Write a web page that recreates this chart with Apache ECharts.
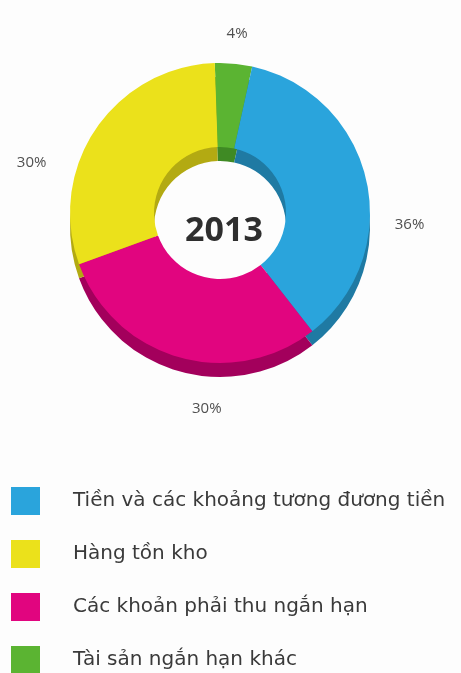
<!DOCTYPE html>
<html>
<head>
<meta charset="utf-8">
<script src="https://cdn.jsdelivr.net/npm/echarts@6/dist/echarts.min.js"></script>
<style>
  html, body { margin: 0; padding: 0; background: #fdfdfd; }
  #chart { width: 461px; height: 673px; }
</style>
</head>
<body>
<div id="chart"></div>
<script>
// Asset structure, 2013 (share of short-term assets, %)
const categories = [
  'Tài sản ngắn hạn khác',
  'Tiền và các khoảng tương đương tiền',
  'Các khoản phải thu ngắn hạn',
  'Hàng tồn kho'
];
const values = [4, 36, 30, 30];
const legendOrder = [
  'Tiền và các khoảng tương đương tiền',
  'Hàng tồn kho',
  'Các khoản phải thu ngắn hạn',
  'Tài sản ngắn hạn khác'
];
const yearLabel = '2013';

// face colours and the darker tones used for the extruded side
const faceColors = ['#5bb432', '#2aa4dc', '#e1057f', '#ebe11b'];
const sideColors = ['#3f8a24', '#1f7aa3', '#a3005c', '#b3aa12'];

// nudges for the percentage labels (pixels)
const labelNudge = [[-22, -8], [-6, 50], [62, 30], [-18, 46]];

const center = [220, 213];
const depth = 14;
const radius = [66, 150];

const faceData = categories.map((name, i) => ({
  name, value: values[i], itemStyle: { color: faceColors[i] }
}));
const sideData = categories.map((name, i) => ({
  name: 'side-' + i, value: values[i], itemStyle: { color: sideColors[i] }
}));

const chart = echarts.init(document.getElementById('chart'), null, { renderer: 'canvas' });
chart.setOption({
  backgroundColor: '#fdfdfd',
  animation: false,
  title: {
    text: yearLabel,
    left: center[0] - 1,
    top: center[1] + 13,
    textAlign: 'center',
    textVerticalAlign: 'middle',
    textStyle: { fontFamily: 'Open Sans', fontWeight: 'bold', fontSize: 34, color: '#2e2e2e' }
  },
  legend: {
    data: legendOrder,
    orient: 'vertical',
    left: 11,
    top: 487,
    height: 240,
    padding: 0,
    icon: 'rect',
    itemWidth: 29,
    itemHeight: 28,
    itemGap: 25,
    selectedMode: false,
    textStyle: { fontFamily: 'DejaVu Sans', fontSize: 20, color: '#3a3a3a', padding: [3, 0, 0, 28] }
  },
  series: [
    {
      type: 'pie',
      z: 3,
      center: center,
      radius: radius,
      startAngle: 92,
      clockwise: true,
      silent: true,
      data: faceData,
      label: {
        show: true,
        position: 'outside',
        formatter: p => p.value + '%',
        fontFamily: 'Open Sans',
        fontSize: 15,
        color: '#505050'
      },
      labelLine: { show: false, length: 22, length2: 8 },
      labelLayout: p => ({ dx: labelNudge[p.dataIndex][0], dy: labelNudge[p.dataIndex][1] }),
      emphasis: { disabled: true }
    },
    {
      type: 'pie',
      z: 2,
      center: [center[0], center[1] + depth],
      radius: radius,
      startAngle: 92,
      clockwise: true,
      silent: true,
      data: sideData,
      label: { show: false },
      labelLine: { show: false },
      emphasis: { disabled: true }
    }
  ]
});
</script>
</body>
</html>
